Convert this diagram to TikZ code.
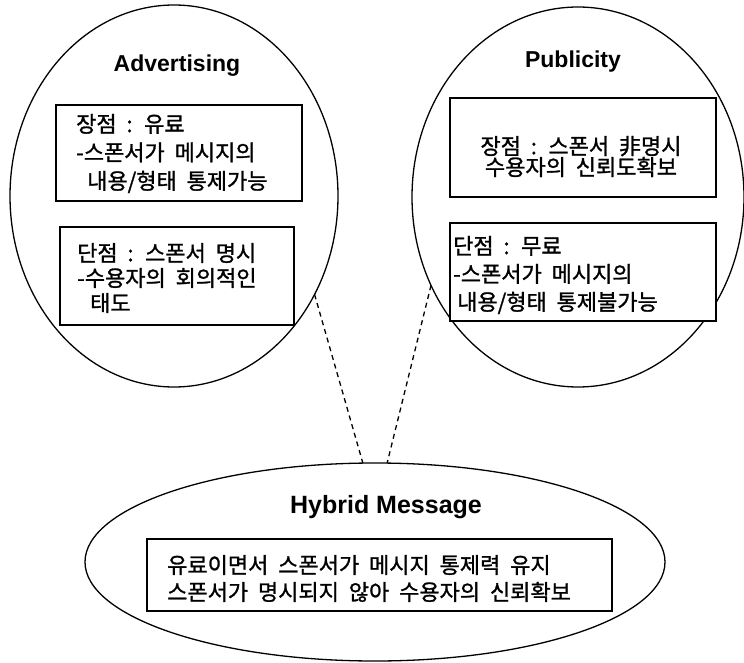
\documentclass[tikz,border=0pt]{standalone}
\usepackage{fontspec}
\setmainfont{Liberation Sans}
\newfontfamily\kr[WordSpace=2,FakeBold=1.2]{Noto Sans CJK KR}
\usetikzlibrary{shapes.geometric}
\begin{document}
\begin{tikzpicture}[x=1pt,y=-1pt,
  oval/.style={draw, ellipse, line width=1.3pt, inner sep=0pt, outer sep=0pt},
  panel/.style={draw, fill=white, line width=1.3pt, inner sep=0pt},
  title/.style={font=\bfseries\fontsize{#1}{#1}\selectfont, anchor=base, inner sep=0pt},
  body/.style={font=\kr\fontsize{22}{#1}\selectfont, align=left, anchor=west, inner sep=0pt},
  link/.style={line width=1.3pt, dash pattern=on 5pt off 4pt}]
\useasboundingbox (0,0) rectangle (744,663);
% ovals
\node[oval, minimum width=328pt, minimum height=382pt] (adv) at (174,196) {};
\node[oval, minimum width=332pt, minimum height=380pt] (pub) at (578,197) {};
\node[oval, minimum width=580pt, minimum height=198pt] (hyb) at (375,562) {};
% titles
\node[title=23] (advt) at (177,72) {Advertising};
\node[title=23] (pubt) at (573,68) {Publicity};
\node[title=25] (hybt) at (386,513) {Hybrid Message};
% boxes
\node[panel, minimum width=246pt, minimum height=96pt] (advpro) at (179,153) {};
\node[panel, minimum width=234pt, minimum height=98pt] (advcon) at (177,276) {};
\node[panel, minimum width=266pt, minimum height=99pt] (pubpro) at (583,147.5) {};
\node[panel, minimum width=266pt, minimum height=98pt] (pubcon) at (583,272) {};
\node[panel, minimum width=465pt, minimum height=72pt] (hybbox) at (379.5,575) {};
% texts
\node[body=28.5] (advprotx) at (76,153.5) {장점 : 유료\\-스폰서가 메시지의\\\hspace*{11pt}내용/형태 통제가능};
\node[body=25] (advcontx) at (77,278) {단점 : 스폰서 명시\\-수용자의 회의적인\\\hspace*{13pt}태도};
\node[body=21, align=center, anchor=center] (pubprotx) at (581,156.5) {장점 : 스폰서 非명시\\수용자의 신뢰도확보};
\node[body=28] (pubcontx) at (453,275) {단점 : 무료\\-스폰서가 메시지의\\\hspace*{4pt}내용/형태 통제불가능};
\node[body=27] (hybtx) at (167,578.5) {유료이면서 스폰서가 메시지 통제력 유지\\스폰서가 명시되지 않아 수용자의 신뢰확보};
% dashed links
\draw[link] (adv.-35) -- (hyb.97);
\draw[link] (pub.-149) -- (hyb.83);
\end{tikzpicture}
\end{document}
